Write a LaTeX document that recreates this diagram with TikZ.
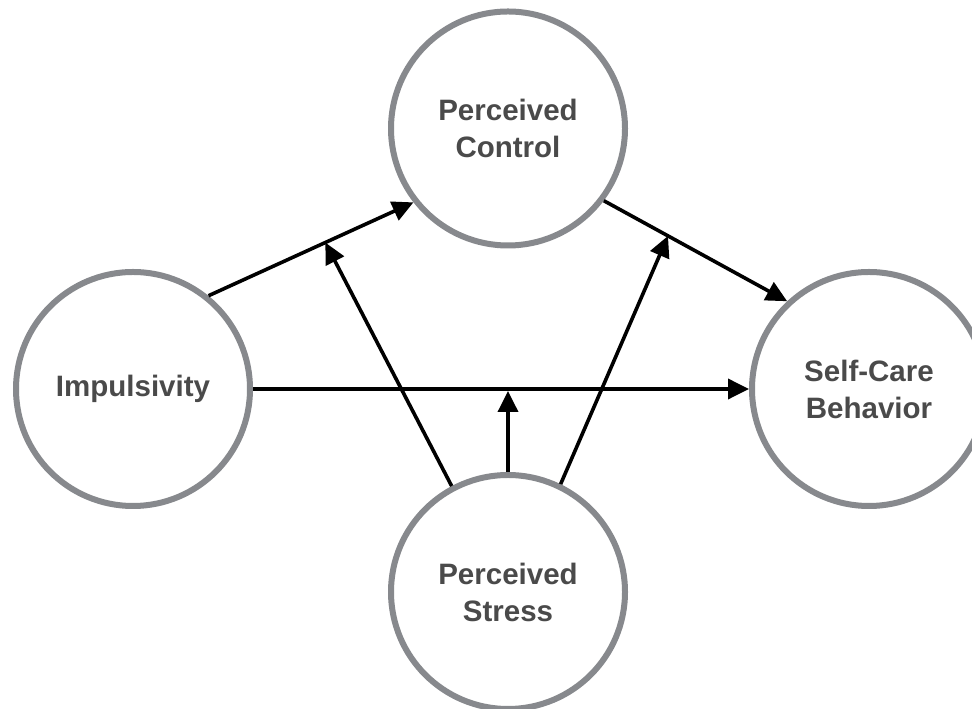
\documentclass[tikz,border=0pt]{standalone}
\usepackage{fontspec}
\setmainfont{Liberation Sans}
\usetikzlibrary{arrows.meta,calc}
\definecolor{ringgray}{HTML}{87898D}
\definecolor{labelgray}{HTML}{4A4A4A}
\begin{document}
\begin{tikzpicture}[x=1pt,y=1pt,
  construct/.style={circle,draw=ringgray,line width=6pt,fill=white,
    minimum size=234pt,inner sep=0pt,align=center,text=labelgray,
    font=\fontsize{29.5}{37}\selectfont\bfseries},
  path link/.style={line width=3.6pt,draw=black,
    -{Triangle[length=21pt,width=20pt]}}]
  \useasboundingbox (0,0) rectangle (972,709);

  % constructs
  \node[construct] (pc)  at (508,580.5) {Perceived\\Control};
  \node[construct] (imp) at (133,320) {Impulsivity};
  \node[construct] (sc)  at (869,320) {Self-Care\\Behavior};
  \node[construct] (ps)  at (508,117)   {Perceived\\Stress};

  % direct and mediated paths
  \draw[path link] (imp.51) -- coordinate[pos=0.57] (m1) (pc.218);
  \draw[path link] (pc.-37) -- coordinate[pos=0.35] (m2) (sc.133);
  \draw[path link] (imp.east) -- (sc.west);

  % moderation by perceived stress
  \draw[path link] (ps.118) -- (m1);
  \draw[path link] (ps.64) -- (m2);
  \draw[path link] (ps.north) -- ([yshift=-2pt]ps.north |- imp.east);
\end{tikzpicture}
\end{document}
